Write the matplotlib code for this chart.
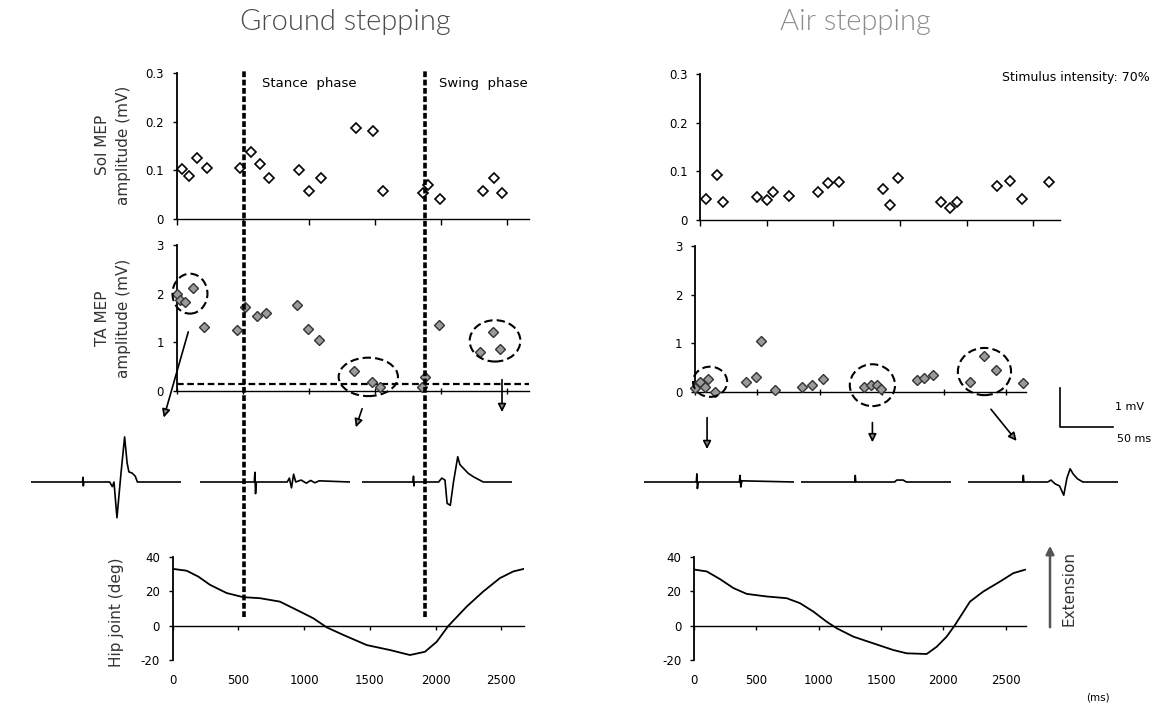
import matplotlib
matplotlib.use('Agg')
import matplotlib.pyplot as plt
import matplotlib.patches as patches

# ---- data ----
# Sol MEP amplitude (mV) vs time in step cycle (ms)
ground_sol_t = [39, 97, 153, 234, 481, 562, 633, 703, 925, 1006, 1092, 1360, 1491, 1562, 1865, 1908, 1996, 2324, 2408, 2468]
ground_sol_v = [0.102, 0.088, 0.126, 0.105, 0.105, 0.138, 0.113, 0.084, 0.100, 0.058, 0.085, 0.188, 0.181, 0.058, 0.054, 0.070, 0.041, 0.058, 0.084, 0.053]
air_sol_t = [45, 125, 175, 426, 506, 546, 664, 882, 960, 1043, 1374, 1429, 1486, 1805, 1875, 1930, 2231, 2323, 2419, 2617]
air_sol_v = [0.043, 0.093, 0.038, 0.048, 0.041, 0.058, 0.049, 0.058, 0.077, 0.079, 0.063, 0.030, 0.086, 0.038, 0.024, 0.038, 0.069, 0.080, 0.043, 0.078]

# TA MEP amplitude (mV)
ground_ta_t = [0, 27, 64, 127, 211, 456, 519, 607, 678, 915, 994, 1082, 1345, 1479, 1542, 1857, 1883, 1989, 2299, 2400, 2451]
ground_ta_v = [2.0, 1.87, 1.83, 2.11, 1.32, 1.25, 1.72, 1.54, 1.60, 1.77, 1.27, 1.05, 0.42, 0.19, 0.09, 0.09, 0.29, 1.36, 0.81, 1.22, 0.86]
air_ta_t = [0, 40, 81, 108, 161, 411, 492, 532, 645, 860, 941, 1030, 1358, 1411, 1465, 1492, 1782, 1841, 1909, 2212, 2320, 2414, 2634]
air_ta_v = [0.08, 0.21, 0.11, 0.26, 0.01, 0.21, 0.31, 1.05, 0.04, 0.11, 0.14, 0.26, 0.11, 0.14, 0.14, 0.07, 0.25, 0.28, 0.35, 0.21, 0.73, 0.45, 0.18]
ta_threshold = 0.14

# hip joint angle (deg)
ground_hip_t = [0, 11, 108, 196, 285, 412, 538, 665, 817, 970, 1071, 1173, 1299, 1477, 1654, 1806, 1920, 2009, 2097, 2237, 2363, 2490, 2592, 2668]
ground_hip_v = [33, 33, 32, 28.6, 23.8, 19, 16.6, 16, 14, 8.2, 4.3, -1, -5.4, -11.3, -14.2, -17.1, -15.2, -9.4, -0.2, 11.1, 19.9, 27.7, 31.6, 33]
air_hip_t = [0, 8, 102, 209, 316, 423, 583, 743, 850, 957, 1064, 1144, 1278, 1438, 1599, 1705, 1866, 1946, 2026, 2093, 2213, 2320, 2454, 2561, 2655]
air_hip_v = [33, 32.6, 31.6, 27.1, 21.9, 18.5, 17, 16, 13.1, 8.2, 2.3, -1.5, -6.4, -10.3, -14.2, -16.1, -16.5, -12.3, -6.4, 0.4, 14, 19.9, 25.7, 30.6, 32.6]

# phase boundaries of ground stepping (ms)
stance_onset = 511
swing_onset = 1886

# example TA EMG sweeps (ms, mV)
g1_t = [0, 48.5, 48.8, 49.2, 49.6, 74, 76.4, 78, 80.8, 84.5, 88, 90.3, 92, 95, 98, 100, 141]
g1_v = [0, 0, 0.12, -0.1, 0, 0, -0.12, 0, -0.92, 0.2, 1.16, 0.5, 0.26, 0.23, 0.15, 0.0, 0]
g2_t = [0, 51, 51.6, 52.2, 53, 82, 84, 86, 88, 90, 95, 100, 104, 108, 112, 141]
g2_v = [0, 0, 0.25, -0.3, 0, 0, 0.1, -0.15, 0.2, 0, 0.05, -0.03, 0.04, -0.02, 0.03, 0]
g3_t = [0, 48, 48.4, 48.8, 49.2, 72, 75, 78, 80, 83, 86, 90, 92, 94, 100, 105, 114, 141]
g3_v = [0, 0, 0.15, -0.1, 0, 0, 0.1, 0.05, -0.55, -0.6, 0, 0.65, 0.45, 0.39, 0.22, 0.13, 0, 0]
a1_t = [0, 49.2, 49.7, 50.2, 51, 89.5, 90.3, 91, 92, 141]
a1_v = [0, 0, 0.21, -0.17, 0, 0, 0.17, -0.13, 0.03, 0]
a2_t = [0, 50.5, 51, 51.5, 88, 90, 96, 99, 141]
a2_v = [0, 0, 0.17, 0, 0, 0.05, 0.05, 0, 0]
a3_t = [0, 51.5, 52, 52.5, 75, 78, 82, 86, 90, 93, 96, 99, 103, 108, 141]
a3_v = [0, 0, 0.17, 0, 0, 0.05, -0.05, -0.1, -0.34, 0.1, 0.34, 0.2, 0.08, 0, 0]

# ---- layout helpers (pixel boxes) ----
W, H = 1158, 708
fig = plt.figure(figsize=(W / 100, H / 100), dpi=100)
fig.patch.set_facecolor('white')


def box(l, t, r, b):
    return [l / W, 1 - b / H, (r - l) / W, (b - t) / H]


def fx(px):
    return px / W


def fy(py):
    return 1 - py / H


tick_font = dict(fontsize=8.5, family='DejaVu Sans')


def style_axes(ax, xmax, yticks, ylabels, ymin, ymax):
    ax.set_xlim(0, xmax)
    ax.set_ylim(ymin, ymax)
    for s in ['top', 'right']:
        ax.spines[s].set_visible(False)
    ax.spines['left'].set_linewidth(1.3)
    ax.spines['bottom'].set_linewidth(1.0)
    ax.set_xticks([0, 500, 1000, 1500, 2000, 2500])
    ax.set_yticks(yticks)
    ax.set_yticklabels(ylabels, **tick_font)
    ax.tick_params(axis='y', direction='out', length=3, width=1, pad=6)
    ax.tick_params(axis='x', direction='out', length=4, width=1)
    ax.patch.set_alpha(0)


def sol_axes(l, t, b, k, xmax, t_vals, v_vals):
    ax = fig.add_axes(box(l, t, l + xmax * k, b))
    style_axes(ax, xmax, [0, 0.1, 0.2, 0.3], ['0', '0.1', '0.2', '0.3'], 0, 0.3)
    ax.set_xticklabels([])
    ax.plot(t_vals, v_vals, ls='none', marker='D', ms=5.5, mfc='white', mec='black',
            mew=1.2, clip_on=False)
    return ax


def ta_axes(l, t, b, k, xmax, t_vals, v_vals):
    ax = fig.add_axes(box(l, t, l + xmax * k, b))
    style_axes(ax, xmax, [0, 1, 2, 3], ['0', '1', '2', '3'], 0, 3)
    ax.set_xticklabels([])
    ax.tick_params(axis='x', direction='inout', length=5)
    ax.plot(t_vals, v_vals, ls='none', marker='D', ms=5.5, mfc='#9a9a9a', mec='#333333',
            mew=1.0, clip_on=False, zorder=4)
    return ax


def hip_axes(l, t, b, k, xmax, t_vals, v_vals):
    ax = fig.add_axes(box(l, t, l + xmax * k, b))
    style_axes(ax, xmax, [-20, 0, 20, 40], ['-20', '0', '20', '40'], -20, 40)
    ax.spines['bottom'].set_position(('data', 0))
    ax.set_xticklabels(['0', '500', '1000', '1500', '2000', '2500'], **tick_font)
    ax.tick_params(axis='x', direction='out', length=3, pad=32)
    ax.plot(t_vals, v_vals, color='black', lw=1.3)
    return ax


# ---- left column: ground stepping ----
ax_gs = sol_axes(176.5, 73, 219, 0.132, 2670, ground_sol_t, ground_sol_v)
ax_gt = ta_axes(176.5, 245, 391, 0.132, 2670, ground_ta_t, ground_ta_v)
ax_gt.axhline(ta_threshold, color='black', ls=(0, (3, 1.6)), lw=1.6)
ax_gh = hip_axes(172.5, 557, 660, 0.1315, 2670, ground_hip_t, ground_hip_v)

# ---- right column: air stepping ----
ax_as = sol_axes(700, 74, 220, 0.1333, 2700, air_sol_t, air_sol_v)
ax_at = ta_axes(695, 246, 392, 0.1245, 2660, air_ta_t, air_ta_v)
ax_ah = hip_axes(694, 557, 660, 0.1247, 2660, air_hip_t, air_hip_v)

# dashed circles around example responses
ell_kw = dict(fill=False, ec='black', ls=(0, (4, 2)), lw=1.5, clip_on=False, zorder=5)
for (cx, cy, w, h) in [(102, 2.0, 265, 0.82), (1453, 0.29, 449, 0.79), (2413, 1.03, 384, 0.85)]:
    ax_gt.add_patch(patches.Ellipse((cx, cy), w, h, **ell_kw))
for (cx, cy, w, h) in [(121, 0.21, 274, 0.62), (1425, 0.14, 363, 0.86), (2325, 0.42, 427, 0.97)]:
    ax_at.add_patch(patches.Ellipse((cx, cy), w, h, **ell_kw))

# arrows from circled responses down to the sweeps
arr = dict(arrowstyle='-|>', color='black', lw=1.2, mutation_scale=12, fc='#888888')
for (x0, y0, x1, y1) in [(95, 1.27, -102, -0.6), (1413, -0.31, 1352, -0.8), (2466, 0.29, 2466, -0.49)]:
    ax_gt.annotate('', xy=(x1, y1), xytext=(x0, y0), arrowprops=arr, annotation_clip=False)
for (x0, y0, x1, y1) in [(97, -0.47, 97, -1.23), (1425, -0.57, 1425, -1.09), (2363, -0.31, 2597, -1.05)]:
    ax_at.annotate('', xy=(x1, y1), xytext=(x0, y0), arrowprops=arr, annotation_clip=False)

# vertical phase lines across the ground-stepping column
ov = fig.add_axes(box(176.5, 70, 176.5 + 2670 * 0.132, 617))
ov.set_xlim(0, 2670)
ov.set_ylim(0, 1)
ov.axis('off')
for xv in [stance_onset, swing_onset]:
    ov.axvline(xv, color='black', ls=(0, (1.6, 0.7)), lw=2.6)
ov.text(stance_onset + 140, 0.975, 'Stance  phase', fontsize=9.5, family='DejaVu Sans', va='center')
ov.text(swing_onset + 100, 0.975, 'Swing  phase', fontsize=9.5, family='DejaVu Sans', va='center')

# ---- EMG sweeps ----
sweeps = [(31, g1_t, g1_v), (200, g2_t, g2_v), (362, g3_t, g3_v),
          (644, a1_t, a1_v), (801, a2_t, a2_v), (968, a3_t, a3_v)]
for (l, tt, vv) in sweeps:
    axs = fig.add_axes(box(l, 431.5, l + 150, 532.5))
    axs.set_xlim(0, 141)
    axs.set_ylim(-1.3, 1.3)
    axs.axis('off')
    axs.plot(tt, vv, color='black', lw=1.2)

# scale bar 1 mV / 50 ms
sb = fig.add_axes(box(1060, 388, 1113, 427))
sb.set_xlim(0, 50)
sb.set_ylim(0, 1)
sb.axis('off')
sb.plot([0, 0, 50], [1, 0, 0], color='black', lw=1.2, clip_on=False)
fig.text(fx(1115), fy(407), '1 mV', fontsize=8, va='center', ha='left')
fig.text(fx(1117), fy(439), '50 ms', fontsize=8, va='center', ha='left')

# ---- titles and labels ----
title_kw = dict(fontsize=21, ha='center', va='center', family=['Lato', 'DejaVu Sans'],
                fontweight=300)
fig.text(fx(345), fy(22), 'Ground stepping', color='#4a4a4a', **title_kw)
fig.text(fx(855), fy(22), 'Air stepping', color='#8c8c8c', **title_kw)
fig.text(fx(1150), fy(77), 'Stimulus intensity: 70%', fontsize=9, ha='right', va='center',
         family='DejaVu Sans')

lab = dict(fontsize=11, color='#333333', rotation=90, ha='center', va='center',
           family='DejaVu Sans', linespacing=1.5)
fig.text(fx(113), fy(145), 'Sol MEP\namplitude (mV)', **lab)
fig.text(fx(113), fy(318), 'TA MEP\namplitude (mV)', **lab)
fig.text(fx(116), fy(612), 'Hip joint (deg)', **lab)

# extension arrow
fig.add_artist(patches.FancyArrowPatch((fx(1050), fy(630)), (fx(1050), fy(543)),
                                       transform=fig.transFigure, arrowstyle='-|>',
                                       mutation_scale=12, lw=1.8, color='#555555'))
fig.text(fx(1069), fy(588), 'Extension', fontsize=11, rotation=90, ha='center', va='center',
         color='#333333')
fig.text(fx(1098), fy(697), '(ms)', fontsize=7.5, ha='center', va='center')

fig.savefig('out.png', dpi=100, facecolor='white')
